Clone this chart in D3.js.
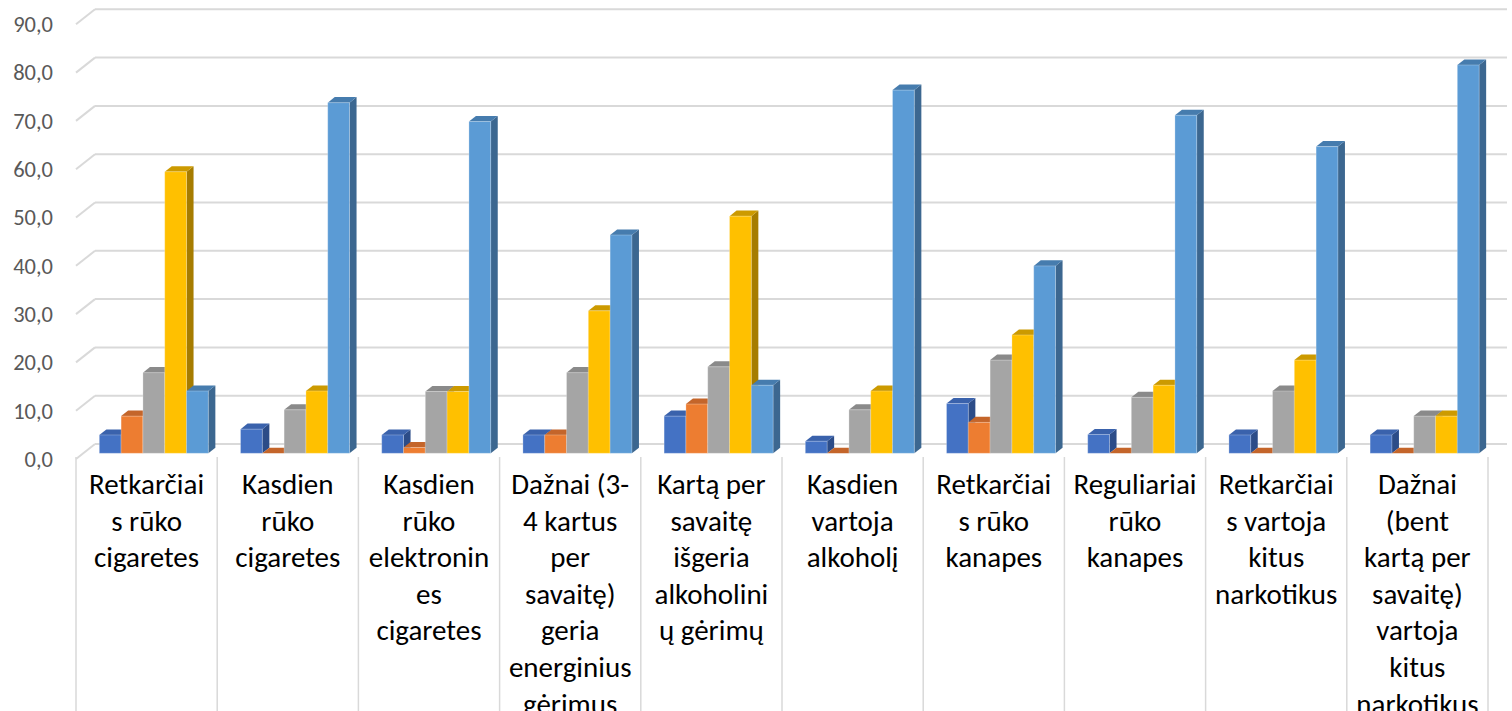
<!DOCTYPE html>
<html>
<head>
<meta charset="utf-8">
<script src="https://cdn.jsdelivr.net/npm/d3@7"></script>
<style>
  html, body { margin: 0; padding: 0; background: #fff; overflow: hidden; }
  svg { display: block; }
  text { font-family: Carlito, Calibri, Lato, "Open Sans", sans-serif; }
</style>
</head>
<body>
<svg id="chart" width="1512" height="711"></svg>
<script>
// Category labels, already broken into the lines they are shown on
const categories = [
  ["Retkarčiai", "s rūko", "cigaretes"],
  ["Kasdien", "rūko", "cigaretes"],
  ["Kasdien", "rūko", "elektronin", "es", "cigaretes"],
  ["Dažnai (3-", "4 kartus", "per", "savaitę)", "geria", "energinius", "gėrimus"],
  ["Kartą per", "savaitę", "išgeria", "alkoholini", "ų gėrimų"],
  ["Kasdien", "vartoja", "alkoholį"],
  ["Retkarčiai", "s rūko", "kanapes"],
  ["Reguliariai", "rūko", "kanapes"],
  ["Retkarčiai", "s vartoja", "kitus", "narkotikus"],
  ["Dažnai", "(bent", "kartą per", "savaitę)", "vartoja", "kitus", "narkotikus"]
];

// Five series, one value per category (percent)
const series1 = [3.8, 5.0, 3.8, 3.8, 7.7, 2.5, 10.3, 3.9, 3.8, 3.8];
const series2 = [7.7, 0.0, 1.2, 3.8, 10.2, 0.0, 6.4, 0.0, 0.0, 0.0];
const series3 = [16.7, 9.0, 12.8, 16.7, 17.9, 9.0, 19.3, 11.6, 12.9, 7.7];
const series4 = [58.3, 12.9, 12.8, 29.5, 49.1, 12.9, 24.5, 14.1, 19.3, 7.7];
const series5 = [12.9, 72.6, 68.7, 45.2, 14.1, 75.2, 38.8, 70.0, 63.5, 80.4];

const yTicks = [0, 10, 20, 30, 40, 50, 60, 70, 80, 90];

// face colours: front, side, top
const palette = [
  { front: "#4472C4", side: "#2C4C88", top: "#3A62AC" },
  { front: "#ED7D31", side: "#A85620", top: "#C4652A" },
  { front: "#A5A5A5", side: "#727272", top: "#8A8A8A" },
  { front: "#FFC000", side: "#A67C00", top: "#CC9A00" },
  { front: "#5B9BD5", side: "#3C6790", top: "#467CAE" }
];

const seriesValues = [series1, series2, series3, series4, series5];

const svg = d3.select("#chart");

// Oblique projection of the 3D floor: z = 0 back wall, z = 1 front edge
const depthDX = -19, depthDY = 15;
const proj = (x, y, z) => [x + depthDX * z, y + depthDY * z];

const x = d3.scaleBand()
  .domain(d3.range(categories.length))
  .range([95, 1507])
  .paddingInner(0)
  .paddingOuter(0);

const y = d3.scaleLinear().domain([0, 90]).range([444, 9.3]);

const gridColor = "#D9D9D9";

// gridlines on the back wall and the side wall
const grid = svg.append("g");
yTicks.forEach(t => {
  const yy = y(t);
  grid.append("line")
    .attr("x1", 95).attr("x2", 1507)
    .attr("y1", yy).attr("y2", yy)
    .attr("stroke", gridColor).attr("stroke-width", 2);
  const [fx, fy] = proj(95, yy, 1);
  grid.append("line")
    .attr("x1", fx).attr("y1", fy)
    .attr("x2", 95).attr("y2", yy)
    .attr("stroke", gridColor).attr("stroke-width", 2);
});

// y axis labels on the front edge
const fmt = v => d3.format(".1f")(v).replace(".", ",");
svg.append("g").selectAll("text")
  .data(yTicks)
  .join("text")
  .attr("x", 53)
  .attr("y", d => proj(95, y(d), 1)[1])
  .attr("dy", "0.35em")
  .attr("text-anchor", "end")
  .attr("font-size", 22.5)
  .attr("fill", "#595959")
  .text(fmt);

// category separators below the floor
const sepG = svg.append("g");
d3.range(categories.length + 1).forEach(i => {
  const bx = i < categories.length ? x(i) : x.range()[1];
  const [fx, fy] = proj(bx, y(0), 1);
  sepG.append("line")
    .attr("x1", fx).attr("x2", fx)
    .attr("y1", fy - 2).attr("y2", 711)
    .attr("stroke", gridColor).attr("stroke-width", 1.5);
});

// bars
const clusterFrac = 0.772;
const zFront = 0.62, zBack = 0.25;
const inner = d3.scaleBand()
  .domain(d3.range(seriesValues.length))
  .range([0, x.bandwidth() * clusterFrac]);
const bw = inner.bandwidth();

const barsG = svg.append("g");
categories.forEach((c, ci) => {
  const cx0 = x(ci) + (x.bandwidth() - x.bandwidth() * clusterFrac) / 2;
  seriesValues.forEach((vals, si) => {
    const v = vals[ci];
    const col = palette[si];
    const xl = cx0 + inner(si), xr = xl + bw;
    const [fl, fb] = proj(xl, y(0), zFront);
    const [fr] = proj(xr, y(0), zFront);
    const ft = proj(xl, y(v), zFront)[1];
    const [bl, bt] = proj(xl, y(v), zBack);
    const [br, bb] = proj(xr, y(0), zBack);
    const g = barsG.append("g");
    // side face
    g.append("path")
      .attr("d", `M${fr},${fb}L${fr},${ft}L${br},${bt}L${br},${bb}Z`)
      .attr("fill", col.side);
    // top face
    g.append("path")
      .attr("d", `M${fl},${ft}L${fr},${ft}L${br},${bt}L${bl},${bt}Z`)
      .attr("fill", col.top);
    // front face
    g.append("rect")
      .attr("x", fl).attr("y", ft)
      .attr("width", fr - fl).attr("height", Math.max(0, fb - ft))
      .attr("fill", col.front)
      .attr("stroke", "rgba(255,255,255,0.25)")
      .attr("stroke-width", 1);
  });
});

// category labels
const labG = svg.append("g");
categories.forEach((lines, ci) => {
  const cxFront = proj(x(ci) + x.bandwidth() / 2, 0, 1)[0];
  const t = labG.append("text")
    .attr("text-anchor", "middle")
    .attr("font-size", 29)
    .attr("fill", "#000");
  lines.forEach((ln, li) => {
    t.append("tspan")
      .attr("x", cxFront)
      .attr("y", 494 + li * 36.6)
      .text(ln);
  });
});
</script>
</body>
</html>
